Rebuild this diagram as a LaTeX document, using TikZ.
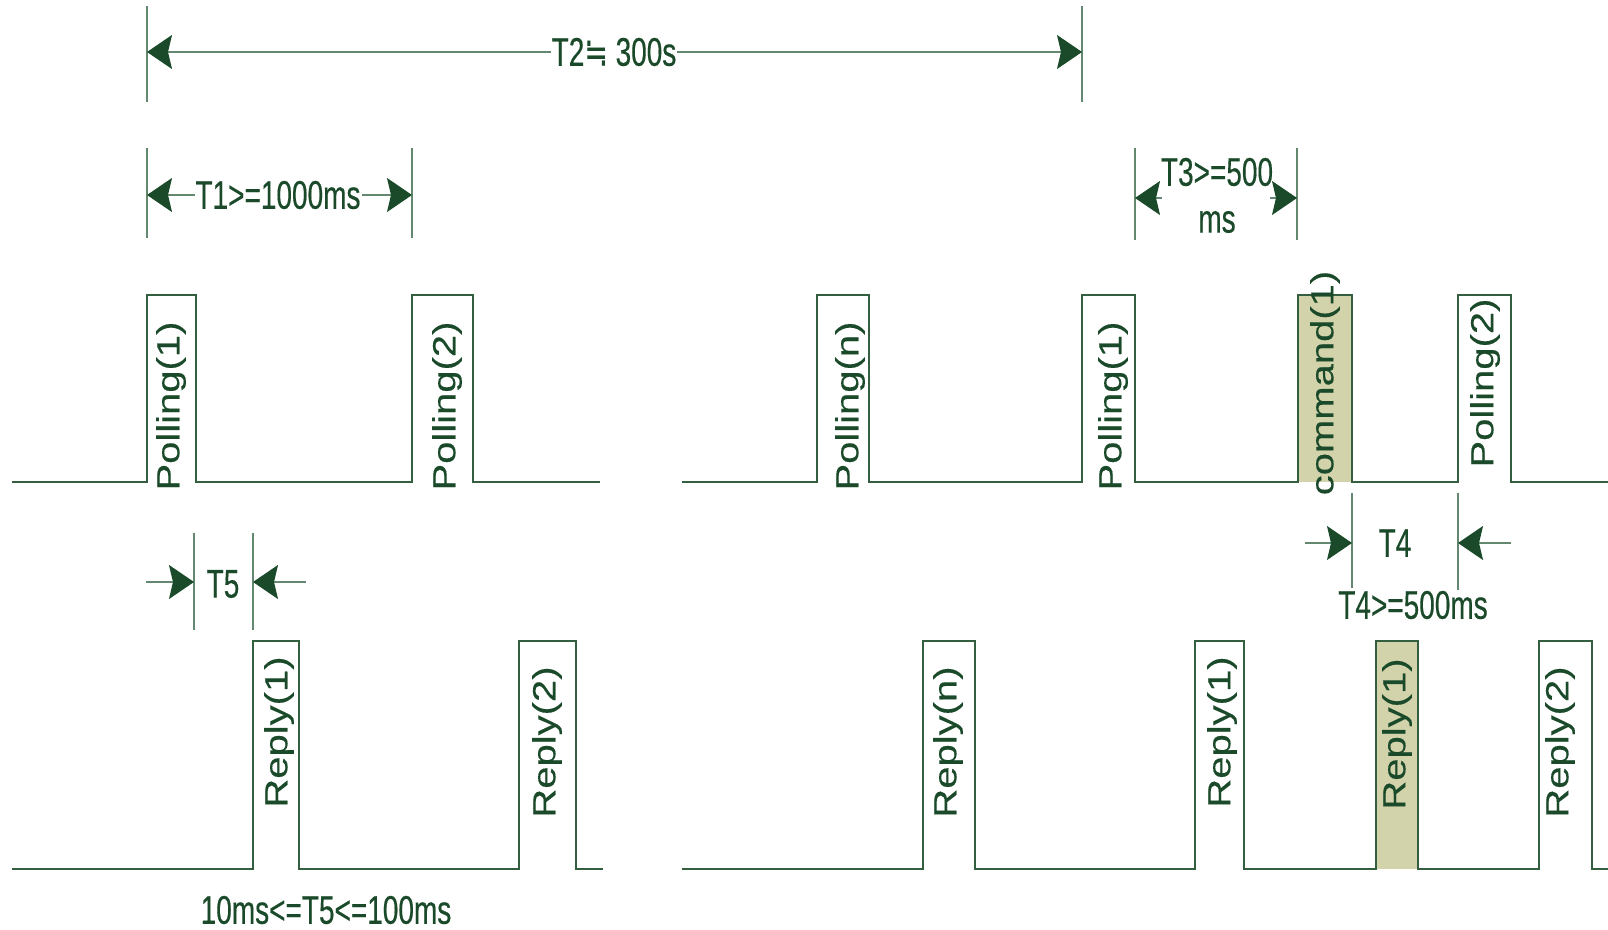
\documentclass[tikz,border=0pt]{standalone}
\usepackage{fontspec}
\usetikzlibrary{arrows.meta}
\newfontfamily\pulsefont[FakeStretch=1.25,FakeBold=0.25]{Liberation Sans}
\newfontfamily\dimfont[FakeStretch=0.7,FakeBold=0.35]{Liberation Sans}
\newfontfamily\symfont[FakeStretch=0.7,FakeBold=0.35]{DejaVu Sans}
\definecolor{ink}{RGB}{26,74,42}
\definecolor{wave}{RGB}{52,94,64}
\definecolor{dimline}{RGB}{100,135,112}
\definecolor{khaki}{RGB}{211,211,171}
\tikzset{
  >={Stealth[length=25pt,width=34pt,inset=4pt,color=ink]},
  waveline/.style={draw=wave, line width=1.3pt, line join=miter},
  extline/.style={draw=dimline, line width=1.3pt},
  dimarrow/.style={draw=dimline, line width=1.3pt},
  pulselabel/.style={rotate=90, text=ink, inner sep=0pt,
    font=\pulsefont\fontsize{32}{38}\selectfont},
  dimlabel/.style={text=ink, inner sep=1pt,
    font=\dimfont\fontsize{40}{48}\selectfont},
}
\begin{document}
\begin{tikzpicture}[x=1pt,y=-1pt]
\useasboundingbox[fill=white] (0,0) rectangle (1608,929);

% highlighted pulses: command(1) and its reply
\fill[khaki] (1298,295) rectangle (1352,482);
\fill[khaki] (1376,641) rectangle (1418,869);

% polling line
\draw[waveline] (12,482) -- (147,482) -- (147,295) -- (196,295) -- (196,482)
  -- (412,482) -- (412,295) -- (473,295) -- (473,482) -- (600,482);
\draw[waveline] (682,482) -- (817,482) -- (817,295) -- (869,295) -- (869,482)
  -- (1082,482) -- (1082,295) -- (1135,295) -- (1135,482)
  -- (1298,482) -- (1298,295) -- (1352,295) -- (1352,482)
  -- (1458,482) -- (1458,295) -- (1511,295) -- (1511,482) -- (1608,482);

% reply line
\draw[waveline] (12,869) -- (253,869) -- (253,641) -- (299,641) -- (299,869)
  -- (519,869) -- (519,641) -- (576,641) -- (576,869) -- (603,869);
\draw[waveline] (682,869) -- (923,869) -- (923,641) -- (975,641) -- (975,869)
  -- (1195,869) -- (1195,641) -- (1244,641) -- (1244,869)
  -- (1376,869) -- (1376,641) -- (1418,641) -- (1418,869)
  -- (1539,869) -- (1539,641) -- (1592,641) -- (1592,869) -- (1608,869);

% pulse labels
\node[pulselabel] (p1) at (171,406) {Polling(1)};
\node[pulselabel] (p2) at (447,406) {Polling(2)};
\node[pulselabel] (pn) at (850,406) {Polling(n)};
\node[pulselabel] (p1b) at (1113,406) {Polling(1)};
\node[pulselabel] (cmd) at (1325,383) {command(1)};
\node[pulselabel] (p2b) at (1485,383) {Polling(2)};
\node[pulselabel] (r1) at (279,732) {Reply(1)};
\node[pulselabel] (r2) at (547,742) {Reply(2)};
\node[pulselabel] (rn) at (948,742) {Reply(n)};
\node[pulselabel] (r1b) at (1222,732) {Reply(1)};
\node[pulselabel] (r1c) at (1397,734) {Reply(1)};
\node[pulselabel] (r2b) at (1560,742) {Reply(2)};

% T2: polling cycle
\coordinate (t2l) at (147,52);  \coordinate (t2r) at (1082,52);
\draw[extline] (147,6) -- (147,102);
\draw[extline] (1082,6) -- (1082,102);
\draw[dimarrow,<->] (t2l) -- (t2r);
\node[dimlabel, fill=white] (t2) at (614,52) {T2{\symfont ≒} 300s};

% T1: polling interval
\coordinate (t1l) at (147,195);  \coordinate (t1r) at (412,195);
\draw[extline] (147,148) -- (147,238);
\draw[extline] (412,148) -- (412,238);
\draw[dimarrow,<->] (t1l) -- (t1r);
\node[dimlabel, fill=white] (t1) at (278,195) {T1>=1000ms};

% T3: gap before a command
\coordinate (t3l) at (1135,198);  \coordinate (t3r) at (1297,198);
\coordinate (t3la) at (1162,198); \coordinate (t3ra) at (1270,198);
\draw[extline] (1135,148) -- (1135,240);
\draw[extline] (1297,148) -- (1297,240);
\draw[dimarrow,->] (t3la) -- (t3l);
\draw[dimarrow,->] (t3ra) -- (t3r);
\node[dimlabel] (t3) at (1217,172) {T3>=500};
\node[dimlabel] (t3u) at (1217,222) {ms};

% T4: gap after a command
\coordinate (t4l) at (1352,543);  \coordinate (t4r) at (1458,543);
\coordinate (t4la) at (1305,543); \coordinate (t4ra) at (1511,543);
\draw[extline] (1352,493) -- (1352,588);
\draw[extline] (1458,493) -- (1458,590);
\draw[dimarrow,->] (t4la) -- (t4l);
\draw[dimarrow,->] (t4ra) -- (t4r);
\node[dimlabel] (t4) at (1395,543) {T4};
\node[dimlabel] (t4v) at (1413,605) {T4>=500ms};

% T5: reply delay
\coordinate (t5l) at (194,582);  \coordinate (t5r) at (253,582);
\coordinate (t5la) at (146,582); \coordinate (t5ra) at (306,582);
\draw[extline] (194,533) -- (194,630);
\draw[extline] (253,533) -- (253,630);
\draw[dimarrow,->] (t5la) -- (t5l);
\draw[dimarrow,->] (t5ra) -- (t5r);
\node[dimlabel] (t5) at (223,584) {T5};
\node[dimlabel] (t5v) at (326,910) {10ms<=T5<=100ms};
\end{tikzpicture}
\end{document}
